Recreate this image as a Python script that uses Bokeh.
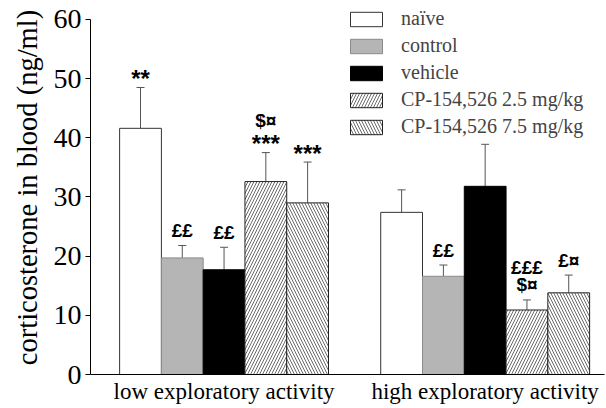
from bokeh.plotting import figure
from bokeh.models import (ColumnDataSource, FixedTicker, Legend, LegendItem,
                          Whisker, TeeHead, Range1d)
from bokeh.embed import file_html
from bokeh.resources import INLINE
from bokeh.core.properties import value

# ---- data -------------------------------------------------------------
groups = ["low exploratory activity", "high exploratory activity"]
series = ["naïve", "control", "vehicle",
          "CP-154,526 2.5 mg/kg", "CP-154,526 7.5 mg/kg"]

naive_mean = [41.6, 27.4]
control_mean = [19.7, 16.6]
vehicle_mean = [17.7, 31.8]
cp25_mean = [32.6, 10.9]
cp75_mean = [29.0, 13.8]

naive_sem = [6.9, 3.8]
control_sem = [2.1, 1.9]
vehicle_sem = [3.8, 7.1]
cp25_sem = [4.9, 1.7]
cp75_sem = [6.9, 3.0]

# significance marks: group index, series index, text, row (0 = next to bar)
ann_group = [0, 0, 0, 0, 0, 0, 1, 1, 1, 1]
ann_series = [0, 1, 2, 3, 3, 4, 1, 3, 3, 4]
ann_text = ["**", "££", "££", "***", "$¤", "***", "££", "$¤", "£££", "£¤"]
ann_row = [0, 0, 0, 0, 1, 0, 0, 0, 1, 0]

y_ticks = [0, 10, 20, 30, 40, 50, 60]

# ---- styling ------------------------------------------------------------
means = [naive_mean, control_mean, vehicle_mean, cp25_mean, cp75_mean]
sems = [naive_sem, control_sem, vehicle_sem, cp25_sem, cp75_sem]
styles = [
    dict(fill_color="white", line_color="#333333"),
    dict(fill_color="#b5b5b5", line_color="#8a8a8a"),
    dict(fill_color="black", line_color="black"),
    dict(fill_color="white", line_color="#222222", hatch_pattern="/",
         hatch_color="#444444", hatch_scale=6, hatch_weight=0.8),
    dict(fill_color="white", line_color="#222222", hatch_pattern="\\",
         hatch_color="#444444", hatch_scale=6, hatch_weight=0.8),
]

group_pos = [1, 2]
bar_w = 0.16
offsets = [-2 * bar_w, -bar_w, 0, bar_w, 2 * bar_w]

# the value axis stops at 60; the frame runs a little higher for the legend
p = figure(width=606, height=408, output_backend="svg", toolbar_location=None,
           x_range=Range1d(0.4885, 2.457), y_range=Range1d(0, 63.2),
           min_border_left=90, min_border_top=0, min_border_bottom=34,
           min_border_right=2)
p.outline_line_color = None
p.grid.visible = False
p.background_fill_color = "white"

legend_items = []
for k, name in enumerate(series):
    xs = [g + offsets[k] for g in group_pos]
    src = ColumnDataSource(dict(x=xs, top=means[k],
                                upper=[m + s for m, s in zip(means[k], sems[k])]))
    r = p.vbar(x="x", top="top", bottom=0, width=bar_w, source=src,
               line_width=1, **styles[k])
    legend_items.append(LegendItem(label=name, renderers=[r]))
    w = Whisker(base="x", lower="top", upper="upper", source=src,
                line_color="#555555", line_width=1,
                upper_head=TeeHead(size=8, line_color="#555555", line_width=1),
                lower_head=None)
    p.add_layout(w)

# significance labels above the error bars
ax, ay, at, aoff, afs = [], [], [], [], []
for g, s, t, row in zip(ann_group, ann_series, ann_text, ann_row):
    ax.append(group_pos[g] + offsets[s])
    ay.append(means[s][g] + sems[s][g])
    at.append(t)
    if row == 1:
        aoff.append(-32)
    elif "*" in t:
        aoff.append(-9)
    else:
        aoff.append(-15)
    afs.append("24px" if "*" in t else "19px")
asrc = ColumnDataSource(dict(x=ax, y=ay, text=at, yoff=aoff, fsize=afs))
p.text(x="x", y="y", text="text", y_offset="yoff", source=asrc,
       text_align="center", text_baseline="middle",
       text_font=value("Liberation Sans"), text_font_size="fsize",
       text_font_style="bold", text_color="black")

# axes
p.yaxis.bounds = (0, 60)
p.yaxis.ticker = FixedTicker(ticks=y_ticks)
p.yaxis.minor_tick_line_color = None
p.yaxis.major_tick_out = 5
p.yaxis.major_tick_in = 0
p.yaxis.major_label_standoff = 4
p.yaxis.major_label_text_font = "Liberation Serif"
p.yaxis.major_label_text_font_size = "28px"
p.yaxis.major_label_text_color = "black"
p.yaxis.axis_label = "corticosterone in blood (ng/ml)"
p.yaxis.axis_label_text_font = "Liberation Serif"
p.yaxis.axis_label_text_font_size = "28.5px"
p.yaxis.axis_label_text_font_style = "normal"
p.yaxis.axis_label_text_color = "black"
p.yaxis.axis_label_standoff = 8
p.yaxis.axis_line_color = "black"

p.xaxis.ticker = FixedTicker(ticks=group_pos)
p.xaxis.major_label_overrides = {group_pos[i]: groups[i] for i in range(2)}
p.xaxis.major_tick_line_color = None
p.xaxis.minor_tick_line_color = None
p.xaxis.major_tick_out = 0
p.xaxis.major_label_standoff = 4
p.xaxis.major_label_text_font = "Liberation Serif"
p.xaxis.major_label_text_font_size = "23px"
p.xaxis.major_label_text_color = "black"
p.xaxis.axis_line_color = "black"

legend = Legend(items=legend_items, location=(256, 236),
                glyph_width=40, glyph_height=18, label_height=18,
                spacing=4, padding=0, margin=0, label_standoff=15,
                label_text_font="Liberation Serif",
                label_text_font_size="20px",
                border_line_color=None, background_fill_alpha=0)
p.add_layout(legend, "center")

open("out.html", "w").write(file_html(p, INLINE))
